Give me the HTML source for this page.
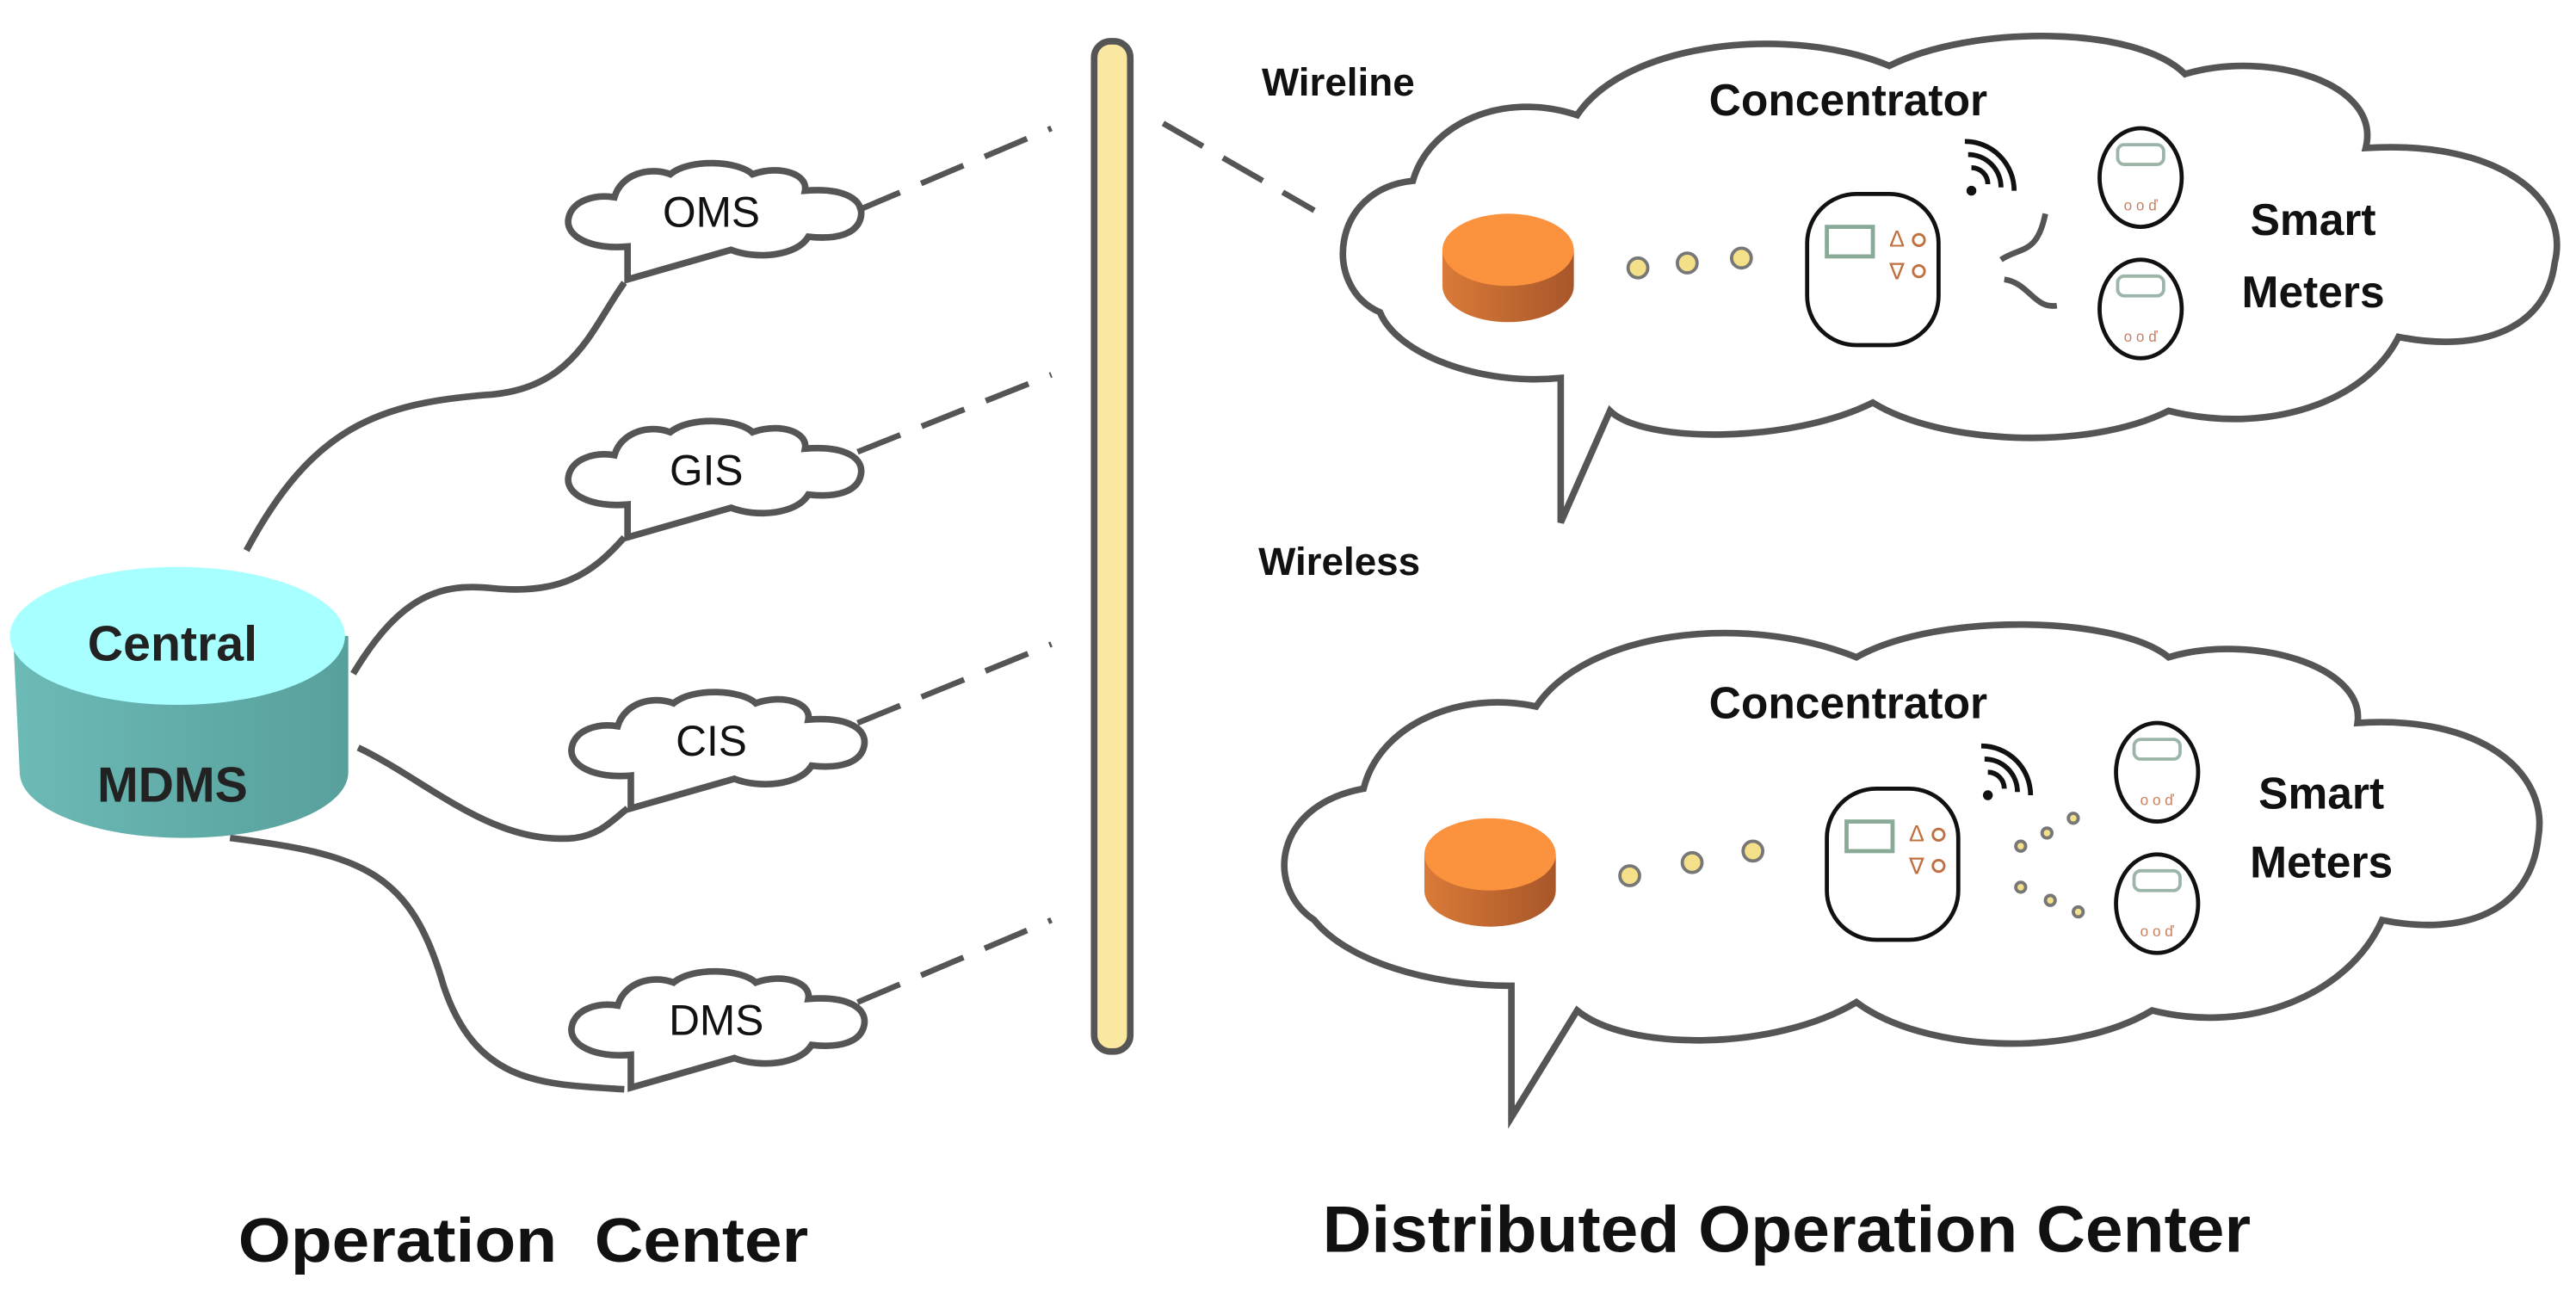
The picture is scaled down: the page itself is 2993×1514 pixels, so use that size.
<!DOCTYPE html>
<html><head><meta charset="utf-8"><style>html,body{margin:0;padding:0;background:#fff}svg{display:block}</style></head><body>
<svg width="2993" height="1514" viewBox="0 0 1568 793" xmlns="http://www.w3.org/2000/svg" font-family="Liberation Sans, Arial, sans-serif">
<defs>
<linearGradient id="side" x1="0" x2="1"><stop offset="0" stop-color="#6cbab6"/><stop offset="1" stop-color="#58a09c"/></linearGradient>
<linearGradient id="org" x1="0" x2="1"><stop offset="0" stop-color="#d97a38"/><stop offset="1" stop-color="#a8562a"/></linearGradient>
<path id="sc" d="M-48,22 C-70,24 -86,16 -84,5 C-82,-6 -68,-10 -56,-8 C-52,-22 -35,-27 -22,-22 C-10,-32 20,-30 28,-22 C45,-28 62,-22 60,-12 C85,-14 96,-6 94,4 C92,14 80,18 62,16 C55,28 30,30 15,24 L-48,42 Z"/>
<g id="meter"><ellipse cx="0" cy="0" rx="25" ry="30" fill="#fff" stroke="#111" stroke-width="2.5"/><rect x="-14" y="-20" width="28" height="12" rx="4" fill="none" stroke="#9bb5a8" stroke-width="2"/><text x="0" y="20" font-size="9" fill="#c88060" text-anchor="middle">o o ď</text></g>
<g id="dev"><rect x="0" y="0" width="80" height="92" rx="30" fill="#fff" stroke="#111" stroke-width="2.5"/><rect x="12" y="20" width="28" height="18" fill="none" stroke="#8aaa98" stroke-width="2.5"/><text x="50" y="32" font-size="14" fill="#c07040">Δ</text><text x="50" y="52" font-size="14" fill="#c07040">∇</text><circle cx="68" cy="28" r="3.5" fill="none" stroke="#c07040" stroke-width="1.5"/><circle cx="68" cy="47" r="3.5" fill="none" stroke="#c07040" stroke-width="1.5"/></g>
<g id="wifi" fill="none" stroke="#111" stroke-width="3"><path d="M0,-2 A10,10 0 0 1 10,8"/><path d="M-2,-10 A20,20 0 0 1 18,10"/><path d="M-4,-18 A30,30 0 0 1 26,12"/><circle cx="0" cy="12" r="1.5" fill="#111"/></g>
<g id="disk"><path d="M-40,0 L-40,22 A40,22 0 0 0 40,22 L40,0 Z" fill="url(#org)"/><ellipse cx="0" cy="0" rx="40" ry="22" fill="#fb923e"/></g>
</defs>
<rect width="1568" height="793" fill="#fff"/>
<g fill="none" stroke="#555" stroke-width="4">
<path d="M150,335 C190,260 230,245 300,240 C350,235 360,200 380,172"/>
<path d="M215,410 C245,360 270,355 300,358 C340,362 360,350 380,327"/>
<path d="M218,455 C260,475 300,515 350,510 C365,508 372,500 382,492"/>
<path d="M140,510 C220,520 250,530 270,600 C290,660 330,660 380,663"/>
</g>
<g fill="#fff" stroke="#555" stroke-width="4">
<use href="#sc" x="430" y="128"/><use href="#sc" x="430" y="285"/><use href="#sc" x="432" y="450"/><use href="#sc" x="432" y="620"/>
</g>
<g font-size="26" text-anchor="middle" fill="#111">
<text x="433" y="138">OMS</text><text x="430" y="295">GIS</text><text x="433" y="460">CIS</text><text x="436" y="630">DMS</text>
</g>
<path d="M8,387 L12,470 A100,40 0 0 0 212,470 L212,387 Z" fill="url(#side)"/>
<ellipse cx="108" cy="387" rx="102" ry="42" fill="#a8ffff"/>
<text x="105" y="402" font-size="30" font-weight="bold" text-anchor="middle" fill="#222">Central</text>
<text x="105" y="488" font-size="30" font-weight="bold" text-anchor="middle" fill="#222">MDMS</text>
<g stroke="#555" stroke-width="3.5" stroke-dasharray="28,14" fill="none">
<path d="M522,128 L640,78"/><path d="M522,275 L640,228"/><path d="M522,440 L640,392"/><path d="M522,610 L640,560"/><path d="M708,75 L800,128"/>
</g>
<rect x="666" y="25" width="22" height="615" rx="10" fill="#fbe8a0" stroke="#555" stroke-width="4"/>
<g fill="#fff" stroke="#555" stroke-width="4">
<path d="M840,190 C805,175 810,115 860,110 C870,75 915,55 960,70 C990,25 1090,15 1150,40 C1200,15 1300,15 1330,45 C1380,30 1450,50 1440,90 C1520,85 1565,120 1555,160 C1550,200 1510,215 1460,205 C1440,245 1380,265 1320,250 C1270,275 1180,270 1140,245 C1090,270 1000,270 980,250 L950,318 L950,230 C900,235 850,215 840,190 Z"/>
<path d="M800,560 C770,540 775,490 830,480 C840,440 890,420 935,430 C965,385 1060,372 1130,400 C1180,372 1290,375 1320,400 C1370,385 1440,405 1435,440 C1510,435 1552,470 1545,510 C1540,555 1500,570 1450,560 C1430,605 1370,630 1310,615 C1260,645 1170,640 1130,610 C1080,640 990,640 960,615 L920,680 L920,600 C870,600 820,585 800,560 Z"/>
</g>
<g font-weight="bold" fill="#111">
<text x="768" y="58" font-size="24">Wireline</text>
<text x="766" y="350" font-size="24">Wireless</text>
<text x="1125" y="70" font-size="27" text-anchor="middle">Concentrator</text>
<text x="1125" y="437" font-size="27" text-anchor="middle">Concentrator</text>
<text x="1408" y="143" font-size="27" text-anchor="middle">Smart</text>
<text x="1408" y="187" font-size="27" text-anchor="middle">Meters</text>
<text x="1413" y="492" font-size="27" text-anchor="middle">Smart</text>
<text x="1413" y="534" font-size="27" text-anchor="middle">Meters</text>
</g>
<use href="#disk" x="918" y="152"/><use href="#disk" x="907" y="520"/>
<g fill="#f5e08a" stroke="#777" stroke-width="2">
<circle cx="997" cy="163" r="6"/><circle cx="1027" cy="160" r="6"/><circle cx="1060" cy="157" r="6"/>
<circle cx="992" cy="533" r="6"/><circle cx="1030" cy="525" r="6"/><circle cx="1067" cy="518" r="6"/>
<circle cx="1230" cy="515" r="3"/><circle cx="1246" cy="507" r="3"/><circle cx="1262" cy="498" r="3"/>
<circle cx="1230" cy="540" r="3"/><circle cx="1248" cy="548" r="3"/><circle cx="1265" cy="555" r="3"/>
</g>
<use href="#dev" x="1100" y="118"/><use href="#dev" x="1112" y="480"/>
<use href="#wifi" x="1200" y="104"/><use href="#wifi" x="1210" y="472"/>
<g fill="none" stroke="#555" stroke-width="3.5"><path d="M1218,158 C1230,150 1240,155 1245,130"/><path d="M1220,170 C1235,172 1238,188 1252,186"/></g>
<use href="#meter" x="1303" y="108"/><use href="#meter" x="1303" y="188"/>
<use href="#meter" x="1313" y="470"/><use href="#meter" x="1313" y="550"/>
<text x="145" y="768" font-size="38" font-weight="bold" fill="#111" textLength="347" lengthAdjust="spacingAndGlyphs" xml:space="preserve">Operation  Center</text>
<text x="805" y="762" font-size="40" font-weight="bold" fill="#111" textLength="565" lengthAdjust="spacingAndGlyphs">Distributed Operation Center</text>
</svg>
</body></html>
